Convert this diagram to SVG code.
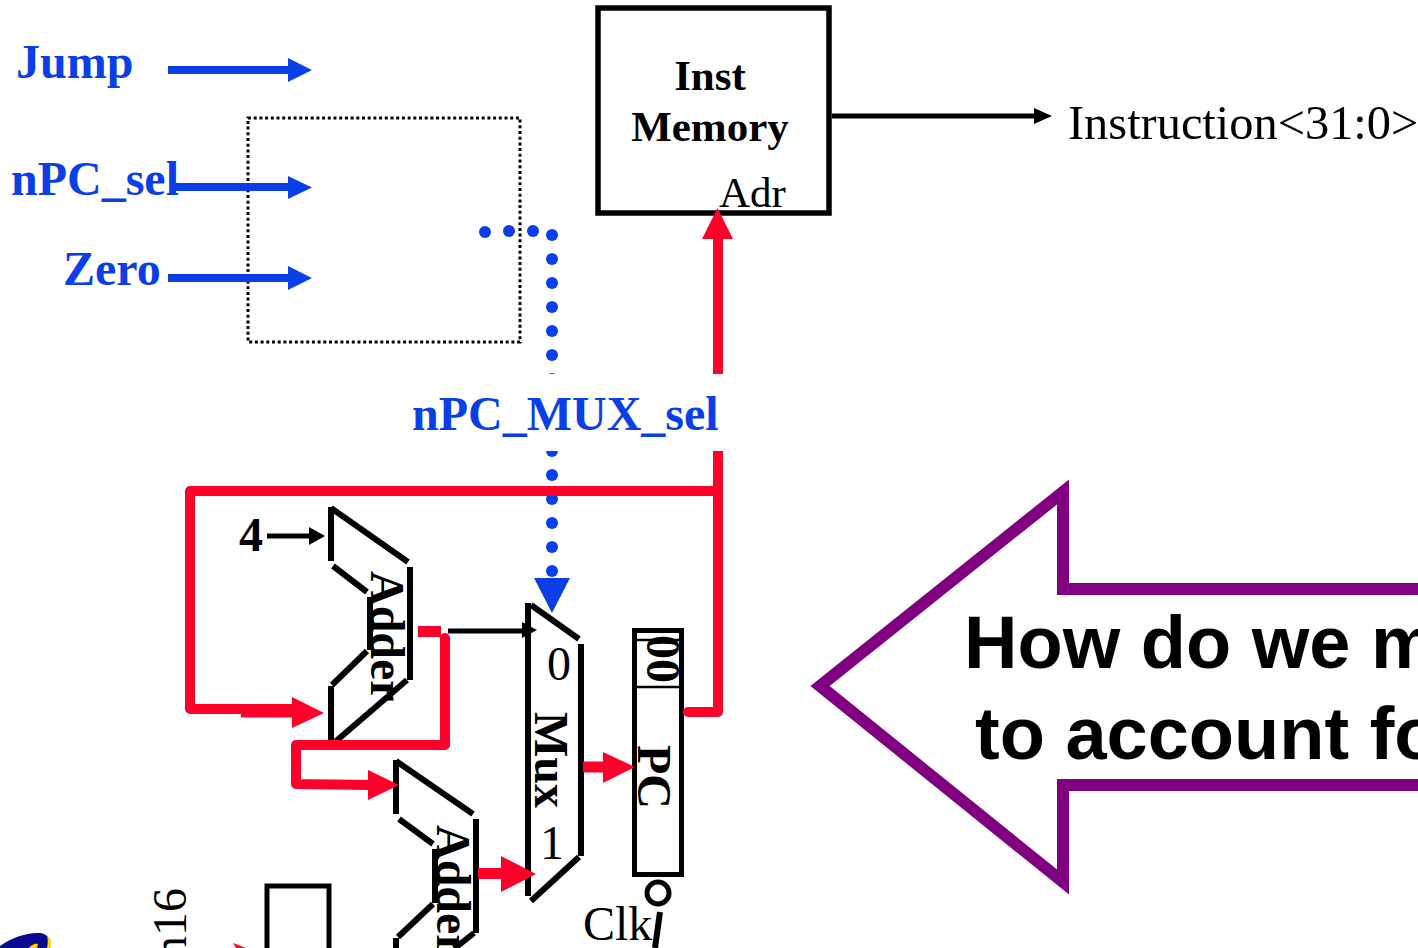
<svg xmlns="http://www.w3.org/2000/svg" width="1418" height="948" viewBox="0 0 1418 948">
<style>
.t{font-family:"Liberation Serif","Times New Roman",serif;fill:#000;font-size:48px}
.b{font-weight:bold}
.blue{fill:#0a3fe8;font-family:"Liberation Serif","Times New Roman",serif;font-weight:bold;font-size:48px}
.s{fill:none;stroke:#000;stroke-width:6}
.r{fill:none;stroke:#ff002b;stroke-width:10;stroke-linejoin:round;stroke-linecap:round}
.rb{fill:none;stroke:#ff002b;stroke-width:11}
.rh{fill:#ff002b}
.bl{fill:none;stroke:#0a3fe8;stroke-width:8}
.bh{fill:#0a3fe8}
.k{fill:#000}
.kl{fill:none;stroke:#000;stroke-width:5}
.dot{fill:#0a3fe8}
.c{font-family:"Liberation Sans",Arial,sans-serif;font-weight:bold;font-size:74px;fill:#000}
</style>
<rect width="1418" height="948" fill="#fff"/>
<g id="logo"><path d="M0 948V946C10 938 28 932 40 933C48 934 52 940 50 948Z" fill="#0a0a90"/><path d="M47 936C51 939 52 943 50 948H47C48 943 48 940 47 936ZM29 948C31 945 35 943 38 944L37 948Z" fill="#ffd400"/></g>
<g id="inst-memory"><rect x="598" y="8" width="231" height="205" fill="none" stroke="#000" stroke-width="5.500"/>
<text class="t b" x="710" y="90" style="font-size:43px" text-anchor="middle">Inst</text>
<text class="t b" x="710" y="141" style="font-size:43px" text-anchor="middle">Memory</text>
<text class="t" x="719" y="207" style="font-size:43px">Adr</text></g>
<text class="t" x="1068" y="139" style="font-size:48.400px">Instruction&lt;31:0&gt;</text>
<path d="M248 118H520V342H248Z" fill="none" stroke="#000" stroke-width="3" stroke-dasharray="3 2.7"/>
<text class="blue" x="16" y="78">Jump</text>
<text class="blue" x="11" y="195">nPC_sel</text>
<text class="blue" x="63" y="285">Zero</text>
<text class="t b" x="239" y="551">4</text>
<g id="adder-1"><path class="s" d="M331 507V561M331 508L408 562M410 567V680M407 680L335 742M333 566L367 592M370 597V650M367 651L332 685M331 686V742"/>
<text class="t b" transform="translate(371 571) rotate(90)">Adder</text></g>
<g id="adder-2"><path class="s" d="M396 760V814M396 761L473 814M476 819V933M474 933L455 948M399 819L433 844M435 849V903M433 904L398 937M396 938V948"/>
<text class="t b" transform="translate(437 825) rotate(90)">Adder</text></g>
<g id="mux"><path class="s" d="M528 603V896M531 605L579 639M581 644V856M579 857L531 901"/>
<text class="t" x="547" y="680">0</text>
<text class="t b" transform="translate(535 712) rotate(90)">Mux</text>
<text class="t" x="540" y="859">1</text></g>
<g id="pc"><rect x="634.5" y="630.5" width="47" height="244" fill="none" stroke="#000" stroke-width="5"/>
<path d="M636 640H682M636 687H682" stroke="#000" stroke-width="2.5"/>
<text class="t b" transform="translate(647 635) rotate(90)">00</text>
<text class="t b" transform="translate(638 745) rotate(90)">PC</text>
<circle cx="658" cy="893" r="11" fill="#fff" stroke="#000" stroke-width="5"/>
<path d="M660 912L655 948" stroke="#000" stroke-width="6"/>
<text class="t" x="583" y="940">Clk</text></g>
<g id="imm16"><text class="t" transform="translate(186 960) rotate(-90)">n16</text></g>
<g id="extender"><path d="M267 948V886H329V948" fill="none" stroke="#000" stroke-width="5"/></g>
<g id="connectors">
<path class="bl" d="M168 70H290M175 187H290M168 278H290"/>
<path class="bh" d="M312 70L288 58V82ZM312 187.500L288 176V199ZM312 278L288 266V290Z"/>
<g class="dot"><circle cx="485" cy="232" r="6"/><circle cx="509" cy="231" r="6"/><circle cx="533" cy="231" r="6"/><circle cx="552" cy="235" r="6"/><circle cx="552" cy="259" r="6"/><circle cx="552" cy="283" r="6"/><circle cx="552" cy="307" r="6"/><circle cx="552" cy="331" r="6"/><circle cx="552" cy="355" r="6"/><circle cx="552" cy="379" r="6"/><circle cx="552" cy="451" r="6"/><circle cx="552" cy="475" r="6"/><circle cx="552" cy="499" r="6"/><circle cx="552" cy="523" r="6"/><circle cx="552" cy="547" r="6"/><circle cx="552" cy="571" r="6"/></g>
<path class="bh" d="M534 578H570L552 613Z"/>
<path d="M718 380V235" stroke="#ff002b" stroke-width="10" fill="none"/>
<path class="rh" d="M717.500 208L733 239H702Z"/>
<path class="r" d="M718 445V491H190V709H296"/>
<path class="rb" d="M241 712H298"/>
<path class="rh" d="M324 713L292 697V728Z"/>
<path class="r" d="M688 712H718V491"/>
<path class="rb" d="M418 631.500H441"/>
<path class="r" d="M445 638V745H296V784L372 785"/>
<path class="rh" d="M399 785L368 770V800Z"/>
<path class="rb" d="M583 767H606"/>
<path class="rh" d="M635 767L603 752V783Z"/>
<path class="rb" d="M478 873.500H505"/>
<path class="rh" d="M536 874L501 856V892Z"/>
<path class="rh" d="M233 943L246 948H236Z"/>
<path class="kl" d="M832 116H1034"/><path class="k" d="M1052 116L1034 108V124Z"/>
<path class="kl" d="M267 536H312"/><path class="k" d="M325 536L309 527V545Z"/>
<path class="kl" d="M448 631H525"/><path class="k" d="M537 630L522 622V638Z"/>
</g>
<g id="npc-mux-sel"><rect x="410" y="374" width="315" height="77" fill="#fff"/>
<text class="blue" x="412" y="430">nPC_MUX_sel</text></g>
<g id="callout"><path d="M1418 589H1063V492L820 686L1063 882V785H1418" fill="#fff" stroke="#800080" stroke-width="12"/>
<text class="c" x="964" y="668">How do we m</text>
<text class="c" x="975" y="759">to account fo</text></g>
</svg>
